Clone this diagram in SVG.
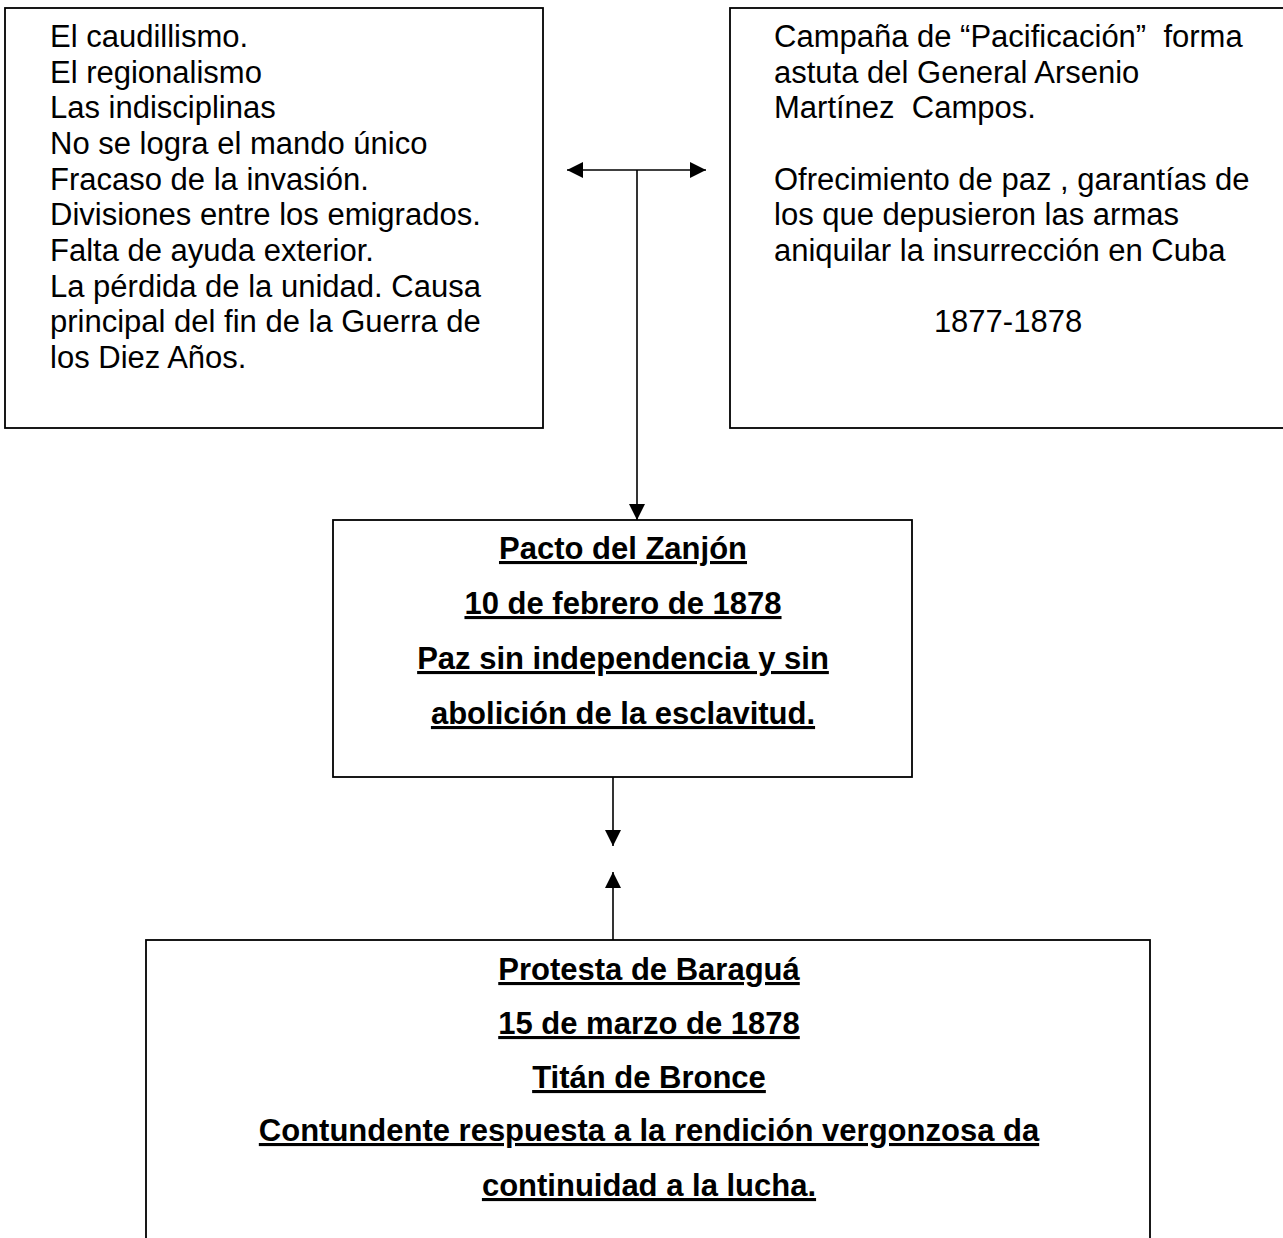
<svg xmlns="http://www.w3.org/2000/svg" width="1283" height="1238" viewBox="0 0 1283 1238">
  <style>
    .box { fill: #ffffff; stroke: #000000; stroke-width: 1.8; }
    .t { font-family: "Liberation Sans", Arial, sans-serif; font-size: 31px; fill: #000000; }
    .b { font-family: "Liberation Sans", Arial, sans-serif; font-size: 31px; font-weight: bold; fill: #000000; text-anchor: middle; text-decoration: underline; }
    .c { fill: none; stroke: #000000; stroke-width: 1.6; }
  </style>
  <defs>
    <marker id="ah" viewBox="0 0 16 16" refX="16" refY="8" markerWidth="16" markerHeight="16" markerUnits="userSpaceOnUse" orient="auto-start-reverse">
      <path d="M0,0 L16,8 L0,16 Z" fill="#000000"/>
    </marker>
  </defs>
  <rect width="1283" height="1238" fill="#ffffff"/>

  <g id="node-causas">
    <rect class="box" x="5" y="8" width="538" height="420"/>
    <text class="t" x="50" y="47">El caudillismo.</text>
    <text class="t" x="50" y="82.5">El regionalismo</text>
    <text class="t" x="50" y="118">Las indisciplinas</text>
    <text class="t" x="50" y="154">No se logra el mando único</text>
    <text class="t" x="50" y="189.5">Fracaso de la invasión.</text>
    <text class="t" x="50" y="225">Divisiones entre los emigrados.</text>
    <text class="t" x="50" y="261">Falta de ayuda exterior.</text>
    <text class="t" x="50" y="296.5">La pérdida de la unidad. Causa</text>
    <text class="t" x="50" y="332">principal del fin de la Guerra de</text>
    <text class="t" x="50" y="368">los Diez Años.</text>
  </g>

  <g id="node-pacificacion">
    <rect class="box" x="730" y="8" width="580" height="420"/>
    <text class="t" x="774" y="47" xml:space="preserve">Campaña de “Pacificación”  forma</text>
    <text class="t" x="774" y="82.5">astuta del General Arsenio</text>
    <text class="t" x="774" y="118" xml:space="preserve">Martínez  Campos.</text>
    <text class="t" x="774" y="189.5">Ofrecimiento de paz , garantías de</text>
    <text class="t" x="774" y="225">los que depusieron las armas</text>
    <text class="t" x="774" y="261">aniquilar la insurrección en Cuba</text>
    <text class="t" x="1008" y="332" text-anchor="middle">1877-1878</text>
  </g>

  <g id="node-zanjon">
    <rect class="box" x="333" y="520" width="579" height="257"/>
    <text class="b" x="623" y="559">Pacto del Zanjón</text>
    <text class="b" x="623" y="614">10 de febrero de 1878</text>
    <text class="b" x="623" y="669">Paz sin independencia y sin</text>
    <text class="b" x="623" y="724">abolición de la esclavitud.</text>
  </g>

  <g id="node-baragua">
    <rect class="box" x="146" y="940" width="1004" height="330"/>
    <text class="b" x="649" y="980">Protesta de Baraguá</text>
    <text class="b" x="649" y="1034">15 de marzo de 1878</text>
    <text class="b" x="649" y="1088">Titán de Bronce</text>
    <text class="b" x="649" y="1141">Contundente respuesta a la rendición vergonzosa da</text>
    <text class="b" x="649" y="1196">continuidad a la lucha.</text>
  </g>

  <g id="connectors">
    <line class="c" x1="567" y1="170" x2="706" y2="170" marker-start="url(#ah)" marker-end="url(#ah)"/>
    <line class="c" x1="637" y1="170" x2="637" y2="520" marker-end="url(#ah)"/>
    <line class="c" x1="613" y1="777" x2="613" y2="846" marker-end="url(#ah)"/>
    <line class="c" x1="613" y1="940" x2="613" y2="872" marker-end="url(#ah)"/>
  </g>
</svg>
